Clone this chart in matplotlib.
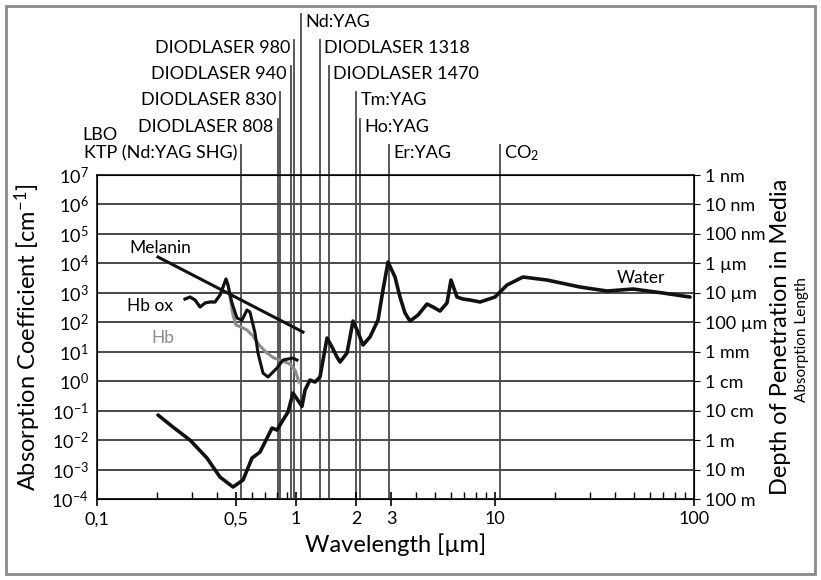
import matplotlib
matplotlib.use('Agg')
import matplotlib.pyplot as plt
import matplotlib.transforms as mtransforms
from matplotlib.patches import Rectangle
import numpy as np

plt.rcParams['font.family'] = ['Lato', 'DejaVu Sans']
plt.rcParams['mathtext.fontset'] = 'custom'
plt.rcParams['mathtext.rm'] = 'Lato'
plt.rcParams['mathtext.it'] = 'Lato:italic'
plt.rcParams['mathtext.bf'] = 'Lato:bold'

# ---------------- data ---------------- #
# water (um, cm^-1)
water_um = [0.2025, 0.2409, 0.2934, 0.357, 0.415, 0.4825, 0.5417, 0.6009, 0.6594,
            0.715, 0.7577, 0.8025, 0.8603, 0.9116, 0.9658, 1.072, 1.110, 1.176,
            1.246, 1.320, 1.367, 1.432, 1.517, 1.607, 1.664, 1.804, 1.868, 1.934,
            2.026, 2.171, 2.354, 2.583, 2.736, 2.900, 3.144, 3.331, 3.530, 3.741,
            4.104, 4.553, 4.880, 5.291, 5.738, 6.010, 6.442, 6.907, 7.486, 8.408,
            10.0, 11.49, 13.82, 18.25, 26.74, 36.54, 49.38, 69.88, 95.5]
water_abs = [0.071, 0.0277, 0.01, 0.00245, 0.000556, 0.000255, 0.00044, 0.00245,
             0.00393, 0.0117, 0.0256, 0.0219, 0.048, 0.0895, 0.396, 0.14, 0.50, 1.09,
             0.935, 1.38, 5.22, 29.2, 14.4, 6.61, 4.47, 9.03, 31.6, 110,
             54.6, 16.9, 31.6, 119, 1245, 11100, 3440, 720, 206, 110,
             176, 417, 330, 241, 451, 2720, 720, 615, 570, 488,
             720, 1840, 3440, 2720, 1574, 1150, 1346, 984, 720]

hbox_um = [0.2768, 0.2934, 0.311, 0.3294, 0.3489, 0.3697, 0.3917, 0.415, 0.4298,
           0.4449, 0.4554, 0.477, 0.5052, 0.5353, 0.5671, 0.587, 0.6223, 0.6442,
           0.6826, 0.7234, 0.8025, 0.8603, 0.9658, 1.0116]
hbox_abs = [615, 720, 570, 330, 451, 488, 488, 842, 1574, 2944, 1840, 451, 139,
            119, 261, 223, 43.2, 9.03, 1.89, 1.38, 2.8, 5.22, 6.11, 5.22]

hb_um = [0.2768, 0.2934, 0.311, 0.3294, 0.3489, 0.3697, 0.3917, 0.415, 0.4298,
         0.4449, 0.4554, 0.4825, 0.4994, 0.5292, 0.5671, 0.6079, 0.6594, 0.715,
         0.7749, 0.8603, 0.9329, 0.9885, 1.035]
hb_abs = [615, 720, 570, 330, 451, 488, 488, 842, 1574, 2944, 1840, 176, 80.7,
          69.0, 54.6, 34.1, 15.6, 9.03, 6.11, 4.83, 3.82, 2.39, 0.935]

melanin_um = [0.2025, 1.084]
melanin_abs = [16440, 46.7]

laser_names = ['KTP (Nd:YAG SHG)', 'DIODLASER 808', 'DIODLASER 830', 'DIODLASER 940',
               'DIODLASER 980', 'Nd:YAG', 'DIODLASER 1318', 'DIODLASER 1470',
               'Tm:YAG', 'Ho:YAG', 'Er:YAG', 'CO$_2$']
laser_um = [0.532, 0.808, 0.83, 0.94, 0.98, 1.064, 1.318, 1.47, 2.013, 2.1, 2.94, 10.6]

xtick_vals = [0.1, 0.5, 1, 2, 3, 10, 100]
xtick_text = ['0,1', '0,5', '1', '2', '3', '10', '100']
depth_text = ['100 m', '10 m', '1 m', '10 cm', '1 cm', '1 mm', '100 µm', '10 µm',
              '1 µm', '100 nm', '10 nm', '1 nm']

# label layout: (row height in axes fraction, side)
rows = [1.068, 1.148, 1.231, 1.312, 1.392, 1.472, 1.392, 1.312, 1.231, 1.148, 1.068, 1.068]
sides = ['l', 'l', 'l', 'l', 'l', 'r', 'r', 'r', 'r', 'r', 'r', 'r']

# ----------------------------------------------- #
fig = plt.figure(figsize=(8.21, 5.8), dpi=100)
fig.patches.append(Rectangle((6/821, 6/580), 809/821, 568/580, transform=fig.transFigure,
                             fill=False, edgecolor='#8a8a8a', linewidth=2))
ax = fig.add_axes([97/821, 81/580, 597/821, 324/580])
ax.set_xscale('log')
ax.set_yscale('log')
ax.set_xlim(0.1, 100)
ax.set_ylim(1e-4, 1e7)

gridc = '#4a4a4a'
for e in range(-4, 8):
    ax.axhline(10.0**e, color=gridc, lw=1.4, zorder=1)

trans = mtransforms.blended_transform_factory(ax.transData, ax.transAxes)
for name, wl, r, s in zip(laser_names, laser_um, rows, sides):
    ax.plot([wl, wl], [0, r + 0.024], transform=trans, color=gridc, lw=1.3,
            clip_on=False, zorder=1)
    if s == 'l':
        ax.annotate(name, xy=(wl, r), xycoords=trans, xytext=(-4, 0),
                    textcoords='offset pixels', ha='right', va='center', fontsize=13)
    else:
        ax.annotate(name, xy=(wl, r), xycoords=trans, xytext=(4, 0),
                    textcoords='offset pixels', ha='left', va='center', fontsize=13)
ax.text(0.0841, 1.123, 'LBO', transform=trans, ha='left', va='center', fontsize=13)

ax.plot(water_um, water_abs, color='#111111', lw=2.6, solid_joinstyle='round',
        solid_capstyle='round', zorder=4)
ax.plot(hb_um, hb_abs, color='#8c8c8c', lw=2.2, solid_joinstyle='round', zorder=3)
ax.plot(hbox_um, hbox_abs, color='#111111', lw=2.2, solid_joinstyle='round', zorder=4)
ax.plot(melanin_um, melanin_abs, color='#111111', lw=2.2, zorder=4)

ax.text(0.2073, 33200, 'Melanin', ha='center', va='center', fontsize=12.5)
ax.text(0.1846, 356, 'Hb ox', ha='center', va='center', fontsize=12.5)
ax.text(0.2147, 29.2, 'Hb', ha='center', va='center', fontsize=12.5, color='#8c8c8c')
ax.text(54.2, 3180, 'Water', ha='center', va='center', fontsize=12.5)

ax.set_xticks(xtick_vals)
ax.set_xticklabels(xtick_text, fontsize=13)
ax.xaxis.set_minor_locator(matplotlib.ticker.LogLocator(subs=np.arange(2, 10)))
ax.xaxis.set_minor_formatter(matplotlib.ticker.NullFormatter())
ax.tick_params(axis='x', which='major', direction='inout', length=10, width=1.2, pad=4)
ax.tick_params(axis='x', which='minor', direction='in', length=5, width=1)
ax.set_yticks([10.0**e for e in range(-4, 8)])
ax.yaxis.set_minor_locator(matplotlib.ticker.NullLocator())
ax.tick_params(axis='y', which='major', direction='in', length=0, labelsize=13, pad=6)
for sp in ax.spines.values():
    sp.set_color('#222222')
    sp.set_linewidth(1.3)

ax2 = ax.twinx()
ax2.set_yscale('log')
ax2.set_ylim(1e-4, 1e7)
ax2.set_yticks([10.0**e for e in range(-4, 8)])
ax2.set_yticklabels(depth_text, fontsize=13)
ax2.yaxis.set_minor_locator(matplotlib.ticker.NullLocator())
ax2.tick_params(axis='y', direction='out', length=4, pad=4)

ax.set_xlabel('Wavelength [µm]', fontsize=17, labelpad=4)
ax.set_ylabel('Absorption Coefficient [cm$^{-1}$]', fontsize=17, labelpad=6)
fig.text(780/821, 1 - 337/580, 'Depth of Penetration in Media', rotation=90,
         ha='center', va='center', fontsize=17)
fig.text(802/821, 1 - 340/580, 'Absorption Length', rotation=90,
         ha='center', va='center', fontsize=11)

fig.savefig('out.png', dpi=100)
